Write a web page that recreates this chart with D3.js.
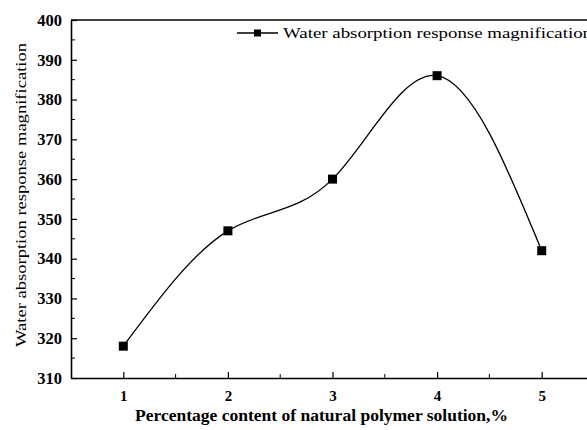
<!DOCTYPE html>
<html>
<head>
<meta charset="utf-8">
<script src="https://cdn.jsdelivr.net/npm/d3@7"></script>
<style>
  body { margin: 0; background: #fff; }
</style>
</head>
<body>
<div id="chart"></div>
<script>
// Percentage content vs water absorption response magnification
const contents = [1, 2, 3, 4, 5];
const magnification = [318, 347, 360, 386, 342];
const xTicks = [1, 2, 3, 4, 5];
const yTicks = [310, 320, 330, 340, 350, 360, 370, 380, 390, 400];

const serif = "'Liberation Serif', 'Times New Roman', serif";
const width = 587;
const height = 430;
const margin = { top: 20, right: -7, bottom: 52, left: 71 };

const svg = d3.select("#chart").append("svg")
  .attr("width", width)
  .attr("height", height)
  .attr("font-family", serif);

const x = d3.scaleLinear()
  .domain([0.5, 5.5])
  .range([margin.left, width - margin.right]);

const y = d3.scaleLinear()
  .domain([310, 400])
  .range([height - margin.bottom, margin.top]);

// ticks point inward, minor ticks in between
const xAxis = svg.append("g")
  .attr("transform", `translate(0,${y(310)})`)
  .call(d3.axisBottom(x).tickValues(xTicks).tickSize(-6).tickSizeOuter(0).tickPadding(12).tickFormat(d3.format("d")));
xAxis.append("g").selectAll("line")
  .data([1.5, 2.5, 3.5, 4.5])
  .enter().append("line")
  .attr("x1", d => x(d)).attr("x2", d => x(d))
  .attr("y1", 0).attr("y2", -4)
  .attr("stroke", "#000");

const yAxis = svg.append("g")
  .attr("transform", `translate(${x(0.5)},0)`)
  .call(d3.axisLeft(y).tickValues(yTicks).tickSize(-6).tickSizeOuter(0).tickPadding(9));
yAxis.append("g").selectAll("line")
  .data(d3.range(315, 400, 10))
  .enter().append("line")
  .attr("y1", d => y(d)).attr("y2", d => y(d))
  .attr("x1", 0).attr("x2", 4)
  .attr("stroke", "#000");

[xAxis, yAxis].forEach(g => {
  g.attr("font-family", serif);
  g.select(".domain").attr("stroke-width", 1.6);
  g.selectAll(".tick line").attr("stroke-width", 1.2);
  g.selectAll("text")
    .attr("font-family", serif)
    .attr("font-weight", "bold")
    .attr("fill", "#000");
});
xAxis.selectAll(".tick text").attr("font-size", 15);
yAxis.selectAll(".tick text").attr("font-size", 16.5);

// top frame line
svg.append("line")
  .attr("x1", x(0.5)).attr("x2", width)
  .attr("y1", y(400)).attr("y2", y(400))
  .attr("stroke", "#000")
  .attr("stroke-width", 1.6);

const pts = contents.map((c, i) => [c, magnification[i]]);

svg.append("path")
  .datum(pts)
  .attr("fill", "none")
  .attr("stroke", "#000")
  .attr("stroke-width", 1.3)
  .attr("d", d3.line().x(d => x(d[0])).y(d => y(d[1])).curve(d3.curveNatural));

svg.selectAll(".pt")
  .data(pts)
  .enter().append("rect")
  .attr("x", d => x(d[0]) - 4.5)
  .attr("y", d => y(d[1]) - 4.5)
  .attr("width", 9)
  .attr("height", 9)
  .attr("fill", "#000");

// legend
const legend = svg.append("g").attr("transform", "translate(237,33)");
legend.append("line").attr("x1", 0).attr("x2", 41).attr("y1", 0).attr("y2", 0)
  .attr("stroke", "#000").attr("stroke-width", 1.3);
legend.append("rect").attr("x", 17).attr("y", -3.5).attr("width", 7).attr("height", 7).attr("fill", "#000");
legend.append("text")
  .attr("x", 46).attr("y", 5)
  .attr("font-family", serif)
  .attr("font-size", 15.5)
  .attr("textLength", 309)
  .attr("lengthAdjust", "spacingAndGlyphs")
  .text("Water absorption response magnification");

// axis titles
svg.append("text")
  .attr("x", 135).attr("y", 421)
  .attr("font-family", serif)
  .attr("font-size", 16)
  .attr("font-weight", "bold")
  .attr("textLength", 373)
  .attr("lengthAdjust", "spacingAndGlyphs")
  .text("Percentage content of natural polymer solution,%");

svg.append("text")
  .attr("transform", "translate(26,347) rotate(-90)")
  .attr("font-family", serif)
  .attr("font-size", 15)
  .attr("textLength", 304)
  .attr("lengthAdjust", "spacingAndGlyphs")
  .text("Water absorption response magnification");
</script>
</body>
</html>
